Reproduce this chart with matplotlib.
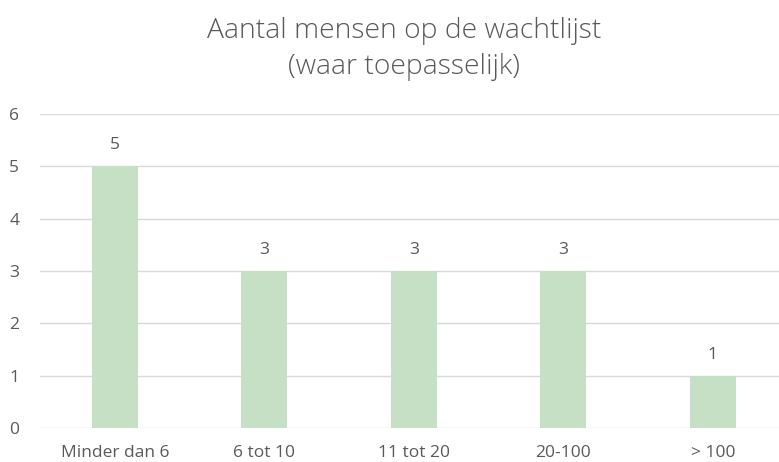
import matplotlib.pyplot as plt

categories = ['Minder dan 6', '6 tot 10', '11 tot 20', '20-100', '> 100']
values = [5, 3, 3, 3, 1]
yticks = [0, 1, 2, 3, 4, 5, 6]

plt.rcParams['font.family'] = ['Open Sans', 'DejaVu Sans']
txt = '#595959'

fig = plt.figure(figsize=(7.79, 4.62), dpi=100)
ax = fig.add_axes([40/779, 34/462, 739/779, 314/462])

x = range(len(categories))
ax.bar(x, values, width=0.31, color='#C5E0C4', zorder=2)
for i, v in zip(x, values):
    ax.text(i, v + 0.4, str(v), ha='center', va='center', fontsize=12.5, color=txt)

ax.set_xlim(-0.5, -0.5 + 739/149.5)
ax.set_ylim(0, 6)
ax.set_yticks(yticks)
ax.set_xticks(list(x))
ax.set_xticklabels(categories)
ax.tick_params(length=0, labelsize=12.5, colors=txt)
ax.tick_params(axis='y', pad=15)
ax.tick_params(axis='x', pad=12)
ax.grid(axis='y', color='#D9D9D9', linewidth=1, zorder=0)
for s in ax.spines.values():
    s.set_visible(False)

fig.text(404/779, 1 - 49/462, 'Aantal mensen op de wachtlijst\n(waar toepasselijk)',
         ha='center', va='center', fontsize=20.3, color=txt, linespacing=1.4,
         fontweight='light')

fig.savefig('out.png', dpi=100)
